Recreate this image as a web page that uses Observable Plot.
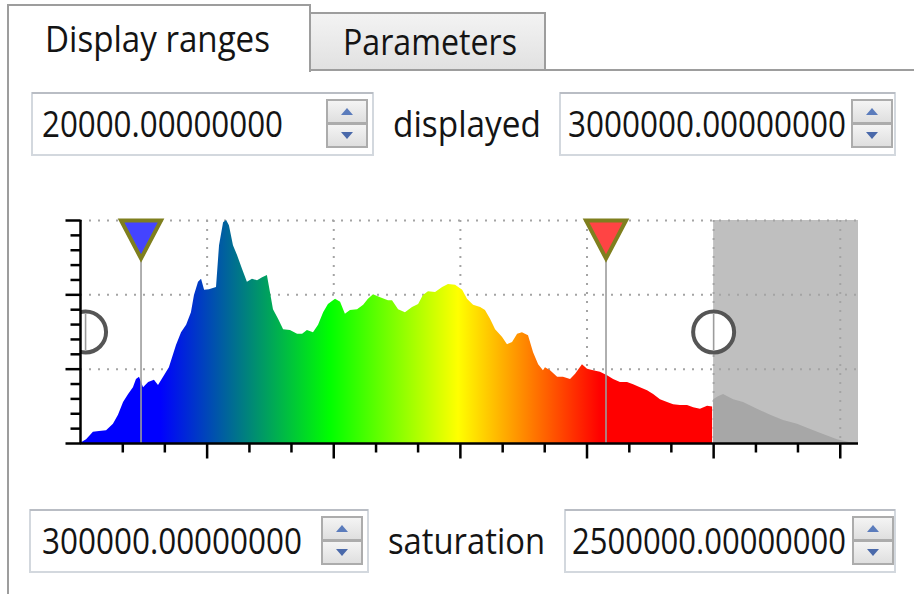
<!DOCTYPE html>
<html><head><meta charset="utf-8">
<script src="https://cdn.jsdelivr.net/npm/d3@7"></script>
<script src="https://cdn.jsdelivr.net/npm/@observablehq/plot@0.6"></script>
<style>
html,body{margin:0;padding:0;background:#fff;}
#wrap{position:relative;width:914px;height:594px;overflow:hidden;background:#fff;}
#plot{position:absolute;left:0;top:190px;}
#ui{position:absolute;left:0;top:0;pointer-events:none;}
</style></head>
<body><div id="wrap"><div id="plot"></div><svg id="ui" width="914" height="594" xmlns="http://www.w3.org/2000/svg"></svg></div>
<script>
// ---------------- data ----------------
// histogram profile: intensity position (thousands) and height (axis units)
const histX = [0,4,24,51,75,103,130,150,170,190,209,221,233,249,269,292,308,328,351,379,399,419,438,450,466,478,490,509,537,549,565,577,588,604,620,640,659,679,699,719,738,750,762,782,802,829,857,877,896,920,940,960,979,1007,1027,1046,1066,1094,1118,1137,1157,1185,1216,1232,1256,1283,1311,1335,1354,1374,1402,1430,1453,1481,1509,1528,1552,1580,1599,1619,1639,1666,1686,1706,1726,1745,1769,1789,1809,1828,1836,1856,1884,1907,1935,1955,1982,2002,2026,2053,2081,2105,2132,2160,2184,2211,2239,2263,2290,2318,2342,2369,2397,2421,2448,2476,2496,2500,2519,2539,2579,2618,2673,2725,2776,2831,2883,2934,2989,3041,3068];
const histY = [0,0.01,0.05,0.15,0.16,0.17,0.26,0.38,0.55,0.66,0.75,0.86,0.89,0.75,0.82,0.85,0.78,0.89,1.02,1.32,1.49,1.59,1.76,1.99,2.17,2.21,2.06,2.07,2.10,2.66,2.97,3.00,2.93,2.66,2.53,2.34,2.17,2.21,2.19,2.23,2.26,2.03,1.80,1.67,1.53,1.52,1.47,1.47,1.52,1.49,1.59,1.76,1.87,1.94,1.90,1.74,1.79,1.80,1.86,1.94,2.00,1.96,1.92,1.92,1.80,1.76,1.83,1.87,1.99,2.04,2.03,2.10,2.14,2.13,2.06,1.94,1.86,1.83,1.79,1.67,1.53,1.43,1.33,1.36,1.47,1.49,1.45,1.22,1.06,0.98,1.02,0.98,0.89,0.89,0.86,0.93,1.06,1.00,0.98,0.96,0.91,0.86,0.82,0.82,0.79,0.75,0.71,0.66,0.59,0.55,0.52,0.51,0.51,0.48,0.46,0.50,0.49,0.59,0.63,0.66,0.59,0.55,0.46,0.38,0.31,0.26,0.19,0.12,0.05,0.01,0];
const xMax = 3072;              // right end of the displayed axis (thousands)
const saturationCut = 2500;     // values above this are greyed out
const colorStops = [316, 987, 1493, 2053];
const colorRange = ["#0000ff", "#00ff00", "#ffff00", "#ff0000"];
const xMajorTicks = [500, 1000, 1500, 2000, 2500, 3000];
const xMinorTicks = [167, 333, 667, 833, 1167, 1333, 1667, 1833, 2167, 2333, 2667, 2833];
const yMajorTicks = [1, 2, 3];
const yMinorTicks = [0.2, 0.4, 0.6, 0.8, 1.2, 1.4, 1.6, 1.8, 2.2, 2.4, 2.6, 2.8];
const blueMarker = 239;
const redMarker = 2075;
const circleMarkers = [20, 2500];
const tabLabels = ["Display ranges", "Parameters"];
const rowLabels = ["displayed", "saturation"];
const fieldValues = ["20000.00000000", "3000000.00000000", "300000.00000000", "2500000.00000000"];

// ---------------- histogram ----------------
const pts = histX.map((x, i) => ({x, v: histY[i]}));
const colored = pts.filter(d => d.x < saturationCut);
const greyed = pts.filter(d => d.x >= saturationCut);

const downTri = {draw(c) { c.moveTo(-20, 0); c.lineTo(20, 0); c.lineTo(0, 38); c.closePath(); }};
const vLine = {draw(c) { c.moveTo(0, -18); c.lineTo(0, 18); }};
const tickDown = len => ({draw(c) { c.moveTo(0, 0); c.lineTo(0, len); }});
const tickLeft = len => ({draw(c) { c.moveTo(0, 0); c.lineTo(-len, 0); }});
const grid = {stroke: "#a4a4a4", strokeWidth: 2, strokeDasharray: "2,7"};

const chart = Plot.plot({
  width: 914, height: 300,
  marginLeft: 80, marginRight: 56, marginTop: 30, marginBottom: 47,
  style: {background: "transparent", overflow: "visible"},
  x: {domain: [0, xMax], axis: null},
  y: {domain: [0, 3], axis: null},
  marks: [
    Plot.rect([{a: saturationCut, b: xMax}], {x1: "a", x2: "b", fill: "#bfbfbf"}),
    Plot.ruleY(yMajorTicks, grid),
    Plot.ruleX(xMajorTicks, grid),
    Plot.areaY(colored, {x: "x", y: "v", fill: "url(#histGrad)", curve: "linear"}),
    Plot.areaY(greyed, {x: "x", y: "v", fill: "#a7a7a7", curve: "linear"}),
    Plot.ruleX([blueMarker, redMarker], {stroke: "#9c9c9c", strokeWidth: 1.6}),
    Plot.dot([blueMarker], {x: d => d, frameAnchor: "top", symbol: downTri, fill: "#4444ff", stroke: "#7f7f1e", strokeWidth: 4, strokeLinejoin: "miter"}),
    Plot.dot([redMarker], {x: d => d, frameAnchor: "top", symbol: downTri, fill: "#ff4444", stroke: "#7f7f1e", strokeWidth: 4, strokeLinejoin: "miter"}),
    Plot.dot(circleMarkers, {x: d => d, frameAnchor: "middle", r: 20.5, fill: "white", stroke: "#555", strokeWidth: 4, clip: true}),
    Plot.dot(circleMarkers, {x: d => d, frameAnchor: "middle", symbol: vLine, fill: "none", stroke: "#9c9c9c", strokeWidth: 1.6, clip: true}),
    Plot.ruleX([0], {stroke: "#000", strokeWidth: 2.5}),
    Plot.ruleY([0], {stroke: "#000", strokeWidth: 2.5, x1: 0, x2: xMax}),
    Plot.dot(xMajorTicks, {x: d => d, frameAnchor: "bottom", symbol: tickDown(15), fill: "none", stroke: "#000", strokeWidth: 2.5}),
    Plot.dot(xMinorTicks, {x: d => d, frameAnchor: "bottom", symbol: tickDown(9), fill: "none", stroke: "#000", strokeWidth: 2.5}),
    Plot.dot([0, ...yMajorTicks], {y: d => d, frameAnchor: "left", symbol: tickLeft(15), fill: "none", stroke: "#000", strokeWidth: 2.5}),
    Plot.dot(yMinorTicks, {y: d => d, frameAnchor: "left", symbol: tickLeft(10), fill: "none", stroke: "#000", strokeWidth: 2.5})
  ]
});
document.getElementById("plot").appendChild(chart);

// colour ramp of the histogram, positioned with the chart's own x scale
const xs = chart.scale("x");
const ui = d3.select("#ui");
const defs = ui.append("defs");
const xA = xs.apply(0), xB = xs.apply(xMax);
const hg = defs.append("linearGradient").attr("id", "histGrad").attr("gradientUnits", "userSpaceOnUse")
  .attr("x1", xA).attr("x2", xB).attr("y1", 0).attr("y2", 0);
colorStops.forEach((s, i) => hg.append("stop").attr("offset", (xs.apply(s) - xA) / (xB - xA)).attr("stop-color", colorRange[i]));

// ---------------- dialog chrome ----------------
const g1 = defs.append("linearGradient").attr("id", "tabg").attr("x1", 0).attr("x2", 0).attr("y1", 0).attr("y2", 1);
g1.append("stop").attr("offset", "0%").attr("stop-color", "#f3f3f3");
g1.append("stop").attr("offset", "100%").attr("stop-color", "#e1e1e1");
const g2 = defs.append("linearGradient").attr("id", "spg").attr("x1", 0).attr("x2", 0).attr("y1", 0).attr("y2", 1);
g2.append("stop").attr("offset", "0%").attr("stop-color", "#f5f5f5");
g2.append("stop").attr("offset", "100%").attr("stop-color", "#dedede");

const border = "#9d9d9d";
ui.append("line").attr("x1", 8).attr("x2", 8).attr("y1", 5).attr("y2", 600).attr("stroke", border).attr("stroke-width", 2);
ui.append("line").attr("x1", 545).attr("x2", 914).attr("y1", 70).attr("y2", 70).attr("stroke", border).attr("stroke-width", 2);
ui.append("path").attr("d", "M8,72 V5 H310 V72").attr("fill", "none").attr("stroke", border).attr("stroke-width", 2);
ui.append("rect").attr("x", 310).attr("y", 13).attr("width", 235).attr("height", 57).attr("fill", "url(#tabg)").attr("stroke", border).attr("stroke-width", 2);

const font = "'Open Sans', 'Noto Sans', 'DejaVu Sans', sans-serif";
function label(text, x, y, w) {
  ui.append("text").attr("x", x).attr("y", y).attr("textLength", w).attr("lengthAdjust", "spacingAndGlyphs")
    .attr("font-family", font).attr("font-size", 37).attr("fill", "#141414").text(text);
}
function field(x, y, w, h, sx) {
  ui.append("rect").attr("x", x).attr("y", y).attr("width", w).attr("height", h)
    .attr("fill", "#fff").attr("stroke", "#d3d8de").attr("stroke-width", 2);
  ui.append("line").attr("x1", x).attr("x2", x + w).attr("y1", y).attr("y2", y).attr("stroke", "#b9bdc4").attr("stroke-width", 2);
  const sy = y + 7, sh = 24;
  [0, 1].forEach(k => {
    ui.append("rect").attr("x", sx).attr("y", sy + k * sh).attr("width", 40).attr("height", sh - 1)
      .attr("fill", "url(#spg)").attr("stroke", "#acacac").attr("stroke-width", 2);
  });
  const cx = sx + 20;
  ui.append("path").attr("d", `M${cx - 6},${sy + 15} L${cx + 6},${sy + 15} L${cx},${sy + 8} Z`).attr("fill", "#5b7cbc");
  ui.append("path").attr("d", `M${cx - 6},${sy + sh + 8} L${cx + 6},${sy + sh + 8} L${cx},${sy + sh + 15} Z`).attr("fill", "#4a69aa");
}
field(32, 93, 341, 62, 327);
field(560, 93, 335, 62, 852);
field(30, 510, 338, 62, 322);
field(565, 510, 330, 62, 853);

label(tabLabels[0], 45, 52, 225);
label(tabLabels[1], 343, 55, 174);
label(fieldValues[0], 42, 137, 241);
label(rowLabels[0], 393, 137, 148);
label(fieldValues[1], 568, 137, 278);
label(fieldValues[2], 42, 554, 260);
label(rowLabels[1], 388, 554, 157);
label(fieldValues[3], 572, 554, 274);
</script>
</body></html>
